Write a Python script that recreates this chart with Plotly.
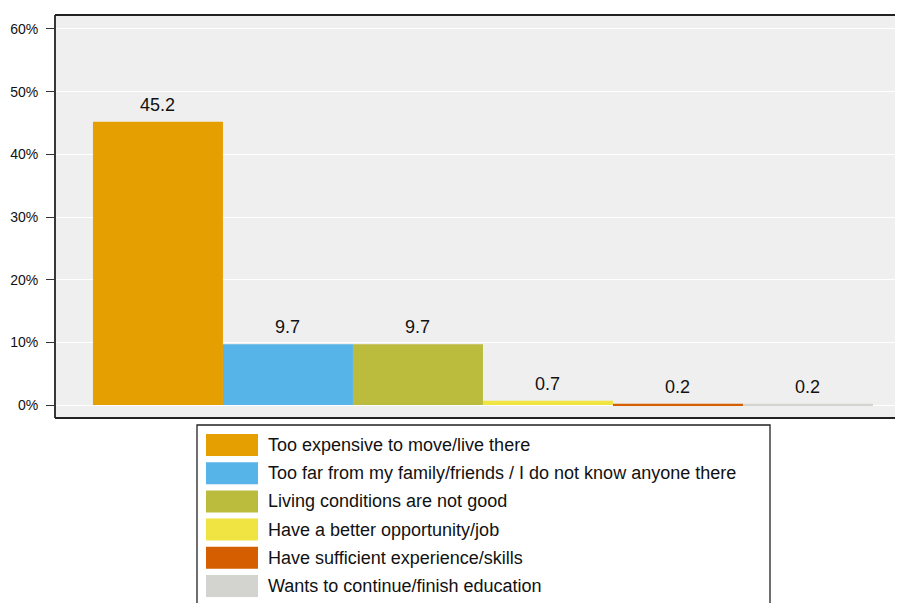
import plotly.graph_objects as go

categories = [
    "Too expensive to move/live there",
    "Too far from my family/friends / I do not know anyone there",
    "Living conditions are not good",
    "Have a better opportunity/job",
    "Have sufficient experience/skills",
    "Wants to continue/finish education",
]
values = [45.2, 9.7, 9.7, 0.7, 0.2, 0.2]
colors = ["#E69F00", "#56B4E9", "#BBBB3E", "#F0E442", "#D55E00", "#D3D3CF"]
y_ticks = [0, 10, 20, 30, 40, 50, 60]

# page body has an 8px margin; compensate so the picture lands in place
OFF = 8
W, H = 903 - OFF, 603 - OFF
ML, MT, MR = 55 - OFF, 15 - OFF, 0
MB = H - (418 - OFF)
PW = W - ML - MR
PH = H - MT - MB

def px_x(px):
    return (px - OFF - ML) / PW

def px_y(py):
    return (H - MB - (py - OFF)) / PH

FONT = "Liberation Sans, Arial, sans-serif"

fig = go.Figure()
for i, (cat, val, col) in enumerate(zip(categories, values, colors)):
    fig.add_trace(go.Bar(
        x=[i], y=[val], width=1, name=cat,
        marker=dict(color=col, line=dict(width=0)),
        showlegend=False,
    ))
    fig.add_annotation(
        x=i, y=val, xref="x", yref="y", text=f"{val:.1f}",
        showarrow=False, yanchor="bottom", yshift=5,
        font=dict(size=18, color="#111111", family=FONT),
    )

shapes = []
for x0, y0, x1, y1 in [(0, 0, 0, 1), (0, 1, 1, 1), (0, 0, 1, 0)]:
    shapes.append(dict(type="line", xref="paper", yref="paper",
                       x0=x0, y0=y0, x1=x1, y1=y1,
                       line=dict(color="#222222", width=1.8)))

shapes.append(dict(type="rect", xref="paper", yref="paper",
                   x0=px_x(197), x1=px_x(770), y0=px_y(625), y1=px_y(425),
                   line=dict(color="#222222", width=1.3), fillcolor="white", layer="above"))
row0, dy = 445, 28.2
for i, (cat, col) in enumerate(zip(categories, colors)):
    cy = row0 + i * dy
    shapes.append(dict(type="rect", xref="paper", yref="paper",
                       x0=px_x(206), x1=px_x(258), y0=px_y(cy + 11), y1=px_y(cy - 11),
                       line=dict(width=0), fillcolor=col, layer="above"))
    fig.add_annotation(
        x=px_x(266), y=px_y(cy), xref="paper", yref="paper", text=cat,
        showarrow=False, xanchor="left", yanchor="middle",
        font=dict(size=18, color="#111111", family=FONT),
    )

fig.update_layout(
    width=W, height=H,
    margin=dict(l=ML, r=MR, t=MT, b=MB),
    paper_bgcolor="white", plot_bgcolor="#EFEFEF",
    shapes=shapes,
    barmode="overlay",
    xaxis=dict(range=[-0.792, 5.731], showticklabels=False, showgrid=False,
               zeroline=False, ticks="", fixedrange=True),
    yaxis=dict(range=[-2.07, 62.23], tickvals=y_ticks,
               ticktext=[f"{v}%" for v in y_ticks],
               showgrid=True, gridcolor="white", gridwidth=1.2,
               zeroline=False, ticks="outside", ticklen=8, tickcolor="#333333",
               ticklabelstandoff=5,
               tickfont=dict(size=14, color="#111111", family=FONT)),
    font=dict(family=FONT),
)

fig.write_html("out.html")
